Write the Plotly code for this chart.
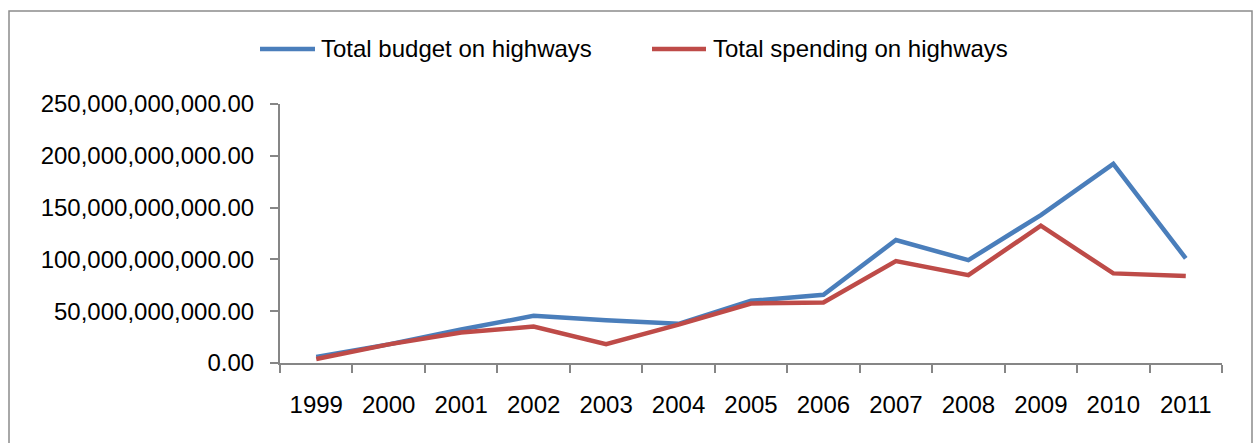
import plotly.graph_objects as go

# Highway budget vs. spending, 1999-2011
years = ["1999", "2000", "2001", "2002", "2003", "2004", "2005",
         "2006", "2007", "2008", "2009", "2010", "2011"]
budget = [5.8e9, 18.0e9, 32.3e9, 45.5e9, 41.3e9, 37.8e9, 60.0e9,
          65.8e9, 118.7e9, 99.3e9, 142.8e9, 192.2e9, 101.0e9]
spending = [3.9e9, 18.0e9, 29.4e9, 35.2e9, 18.1e9, 37.1e9, 57.4e9,
            58.4e9, 98.4e9, 84.8e9, 132.5e9, 86.5e9, 83.9e9]
series_names = ["Total budget on highways", "Total spending on highways"]
y_ticks = [0, 50e9, 100e9, 150e9, 200e9, 250e9]

BLUE = "#4A7EBB"
RED = "#BE4B48"
AXIS = "#868686"
FONT = "Liberation Sans, Arial, sans-serif"
FS = 24

W, H = 1258, 443
ML, MR, MT, MB = 280, 36, 104, 80
PW, PH = W - ML - MR, H - MT - MB


def px(x):
    return (x - ML) / PW


def py(y):
    return (H - MB - y) / PH


fig = go.Figure()
fig.add_trace(go.Scatter(x=years, y=budget, mode="lines", name=series_names[0],
                         line=dict(color=BLUE, width=4.5)))
fig.add_trace(go.Scatter(x=years, y=spending, mode="lines", name=series_names[1],
                         line=dict(color=RED, width=4.5)))

shapes = [
    # chart frame
    dict(type="rect", xref="paper", yref="paper",
         x0=px(9), x1=px(1252), y0=py(452), y1=py(11),
         line=dict(color="#8C8C8C", width=1.5), layer="below"),
]
annotations = []
# legend drawn above the plot area
legend_items = [(260, 315, 319, series_names[0], BLUE),
                (652, 706, 711, series_names[1], RED)]
for x0, x1, xt, label, col in legend_items:
    shapes.append(dict(type="line", xref="paper", yref="paper",
                       x0=px(x0), x1=px(x1), y0=py(49), y1=py(49),
                       line=dict(color=col, width=4.5)))
    annotations.append(dict(xref="paper", yref="paper", x=px(xt), y=py(49),
                            text=label, showarrow=False, xanchor="left",
                            yanchor="middle", font=dict(size=FS, color="#000000",
                                                        family=FONT)))

fig.update_layout(
    width=W, height=H,
    margin=dict(l=ML, r=MR, t=MT, b=MB, pad=0),
    paper_bgcolor="white", plot_bgcolor="white",
    showlegend=False,
    font=dict(family=FONT, size=FS, color="#000000"),
    shapes=shapes, annotations=annotations,
    xaxis=dict(type="category", range=[-0.5, 12.5], showgrid=False,
               showline=True, linecolor=AXIS, linewidth=2,
               ticks="outside", tickson="boundaries", ticklen=8,
               tickcolor=AXIS, tickwidth=2, ticklabelstandoff=19,
               zeroline=False, fixedrange=True),
    yaxis=dict(range=[0, 250e9], tickvals=y_ticks, tickformat=",.2f",
               showgrid=False, showline=True, linecolor=AXIS, linewidth=2,
               ticks="outside", ticklen=8, tickcolor=AXIS, tickwidth=2,
               ticklabelstandoff=11, zeroline=False, fixedrange=True),
)

fig.write_html("out.html", config={"displayModeBar": False})
